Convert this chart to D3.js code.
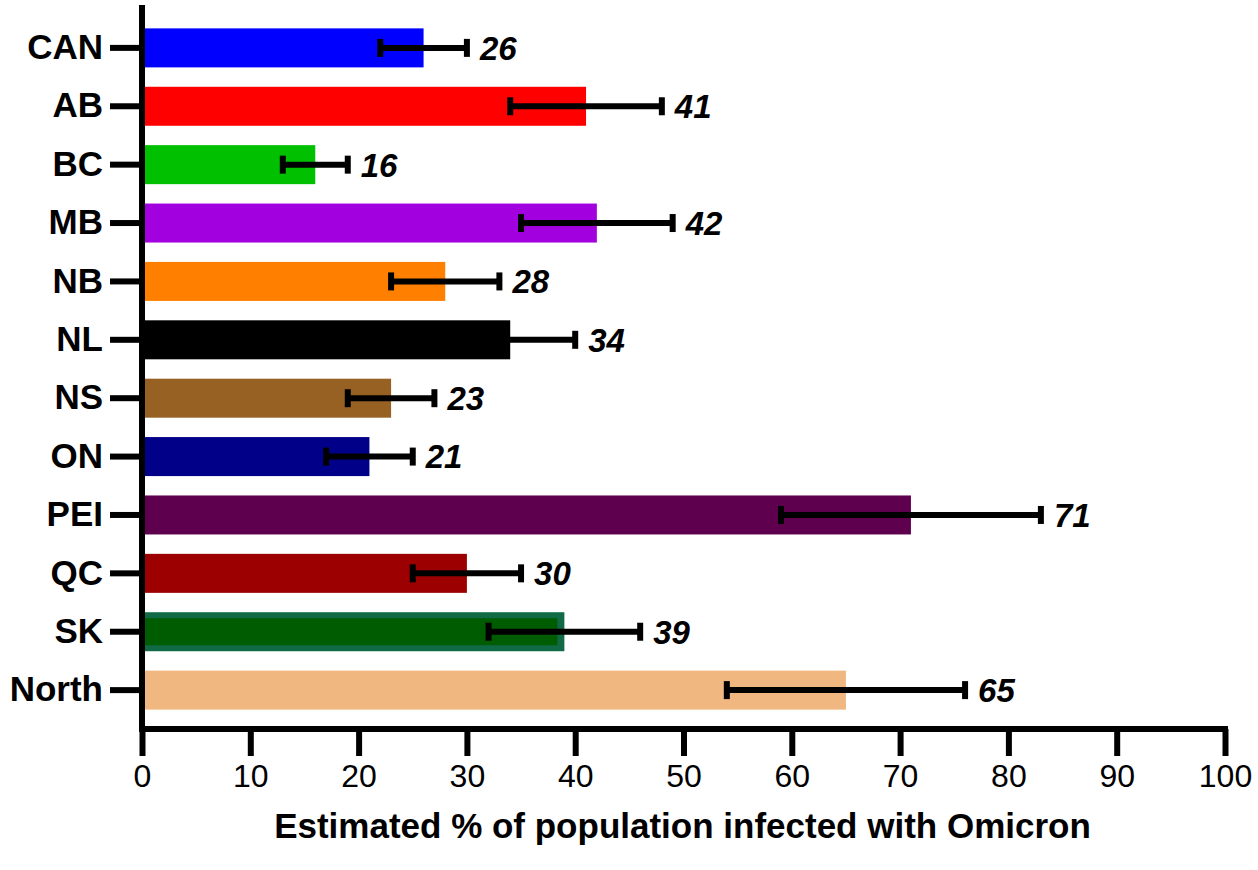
<!DOCTYPE html>
<html>
<head>
<meta charset="utf-8">
<script src="https://cdn.jsdelivr.net/npm/d3@7"></script>
<style>
  html, body { margin: 0; padding: 0; background: #fff; }
  svg { display: block; }
</style>
</head>
<body>
<svg id="chart" width="1258" height="870"></svg>
<script>
const categories = ["CAN", "AB", "BC", "MB", "NB", "NL", "NS", "ON", "PEI", "QC", "SK", "North"];
const values     = [26, 41, 16, 42, 28, 34, 23, 21, 71, 30, 39, 65];
const lower      = [22, 34, 13, 35, 23, 28, 19, 17, 59, 25, 32, 54];
const upper      = [30, 48, 19, 49, 33, 40, 27, 25, 83, 35, 46, 76];
const colors     = ["#0000ff", "#ff0000", "#00c000", "#a300e0", "#ff8000", "#000000",
                    "#976124", "#000088", "#5e004e", "#9c0000", "#005c00", "#f0b880"];
const xTicks     = [0, 10, 20, 30, 40, 50, 60, 70, 80, 90, 100];
const xTitle     = "Estimated % of population infected with Omicron";

const svg = d3.select("#chart");
const font = "'Liberation Sans', Arial, sans-serif";

const x = d3.scaleLinear().domain([0, 100]).range([142, 1225]);
const y = d3.scaleBand().domain(categories).range([9, 729]).padding(0.332);
const axisY = 729;

// bars
const bars = svg.append("g");
categories.forEach((c, i) => {
  const x0 = x(0) + 2, x1 = x(values[i]);
  if (c === "SK") {
    bars.append("rect").attr("x", x0).attr("y", y(c)).attr("width", x1 - x0)
      .attr("height", y.bandwidth()).attr("fill", "#0f6a45");
    bars.append("rect").attr("x", x0).attr("y", y(c) + 6).attr("width", x1 - x0 - 7)
      .attr("height", y.bandwidth() - 12).attr("fill", colors[i]);
  } else {
    bars.append("rect").attr("x", x0).attr("y", y(c)).attr("width", x1 - x0)
      .attr("height", y.bandwidth()).attr("fill", colors[i]);
  }
});

// error bars
const eb = svg.append("g").attr("stroke", "#000");
categories.forEach((c, i) => {
  const cy = y(c) + y.bandwidth() / 2;
  eb.append("line").attr("x1", x(lower[i])).attr("x2", x(upper[i])).attr("y1", cy).attr("y2", cy)
    .attr("stroke-width", 6);
  [lower[i], upper[i]].forEach(v => {
    eb.append("line").attr("x1", x(v)).attr("x2", x(v)).attr("y1", cy - 9).attr("y2", cy + 9)
      .attr("stroke-width", 6);
  });
});

// value labels
svg.append("g").selectAll("text").data(categories).join("text")
  .attr("x", (c, i) => x(upper[i]) + 13)
  .attr("y", c => y(c) + y.bandwidth() / 2)
  .attr("dy", "0.36em")
  .attr("font-family", font).attr("font-size", 33).attr("font-weight", "bold").attr("font-style", "italic")
  .attr("fill", "#000")
  .text((c, i) => values[i]);

// x axis
const gx = svg.append("g").attr("transform", `translate(0,${axisY})`)
  .call(d3.axisBottom(x).tickValues(xTicks).tickSize(27).tickSizeOuter(0).tickPadding(8));
gx.select(".domain").remove();
gx.selectAll(".tick line").attr("stroke", "#000").attr("stroke-width", 6);
gx.selectAll(".tick text").attr("font-family", font).attr("font-size", 32).attr("fill", "#000");
svg.append("line").attr("x1", x(0) - 3).attr("x2", x(100) + 3).attr("y1", axisY).attr("y2", axisY)
  .attr("stroke", "#000").attr("stroke-width", 6);

// y axis
const gy = svg.append("g").attr("transform", `translate(${x(0)},0)`)
  .call(d3.axisLeft(y).tickSize(32).tickSizeOuter(0).tickPadding(7));
gy.select(".domain").remove();
gy.selectAll(".tick line").attr("stroke", "#000").attr("stroke-width", 6);
gy.selectAll(".tick text").attr("font-family", font).attr("font-size", 35).attr("font-weight", "bold").attr("fill", "#000");
svg.append("line").attr("x1", x(0)).attr("x2", x(0)).attr("y1", 5).attr("y2", axisY + 3)
  .attr("stroke", "#000").attr("stroke-width", 6);

// x title
svg.append("text").attr("x", (x(0) + x(100)) / 2 - 1).attr("y", 838)
  .attr("text-anchor", "middle")
  .attr("font-family", font).attr("font-size", 35).attr("font-weight", "bold").attr("fill", "#000")
  .text(xTitle);
</script>
</body>
</html>
